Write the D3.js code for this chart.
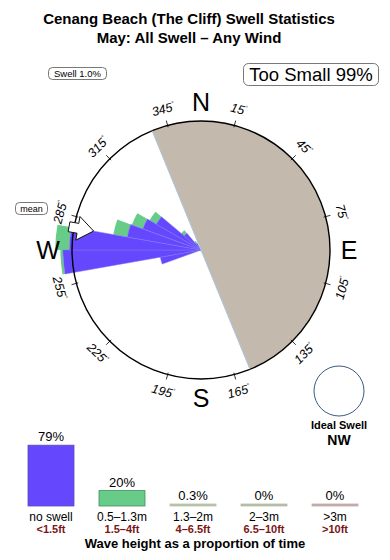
<!DOCTYPE html>
<html lang="en">
<head>
<meta charset="UTF-8">
<title>Cenang Beach (The Cliff) Swell Statistics</title>
<style>
body{margin:0;background:#fff;}
svg text{font-family:"Liberation Sans",Arial,Helvetica,sans-serif;}
</style>
</head>
<body>
<script src="https://cdn.jsdelivr.net/npm/d3@7"></script>
<script>
// rose bins (direction swell comes from, deg) and stacked amounts
var dirs = [255, 265, 275, 285, 295, 305, 315, 325];
var smallSwell = [32, 107, 102, 58, 48, 40, 17, 6];   // blue part
var midSwell = [0, 2, 11, 11, 9, 6, 3, 2];            // green part on top
var meanDir = 280;
var landFrom = 337.7, landTo = 157.7;

var tickDeg = [15, 45, 75, 105, 135, 165, 195, 225, 255, 285, 315, 345];
var cardLabels = ["N", "E", "S", "W"];
var cardDeg = [0, 90, 180, 270];

// bottom bar chart
var heightCats = ["no swell", "0.5\u20131.3m", "1.3\u20132m", "2\u20133m", ">3m"];
var heightFt = ["<1.5ft", "1.5\u20134ft", "4\u20136.5ft", "6.5\u201310ft", ">10ft"];
var heightPct = [79, 20, 0.3, 0, 0];
var pctLabels = ["79%", "20%", "0.3%", "0%", "0%"];

var barColors = ["#6547fd", "#66cc88", "#b7c3a9", "#b4bca6", "#c3abab"];
var barStroke = ["#5a4fb0", "#3f8f5c", "#b7c3a9", "#b4bca6", "#c3abab"];

var W = 390, H = 560;
var svg = d3.select("body").append("svg").attr("width", W).attr("height", H);

// titles
svg.append("text").attr("x", 189).attr("y", 24).attr("text-anchor", "middle")
  .attr("font-size", 15).attr("font-weight", "bold")
  .text("Cenang Beach (The Cliff) Swell Statistics");
svg.append("text").attr("x", 189).attr("y", 43).attr("text-anchor", "middle")
  .attr("font-size", 15).attr("font-weight", "bold")
  .text("May: All Swell \u2013 Any Wind");

// legend boxes
function box(x, y, w, h, rx, fs, txt) {
  svg.append("rect").attr("x", x).attr("y", y).attr("width", w).attr("height", h)
    .attr("rx", rx).attr("fill", "#fff").attr("stroke", "#555").attr("stroke-width", 0.8);
  svg.append("text").attr("x", x + w / 2).attr("y", y + h / 2).attr("dy", "0.36em")
    .attr("text-anchor", "middle").attr("font-size", fs).text(txt);
}
box(48.5, 67.5, 58, 12, 4, 9.5, "Swell 1.0%");
box(243.5, 63.5, 135, 22, 5, 18.5, "Too Small 99%");
box(15.5, 202.5, 32, 12, 4, 9, "mean");

// rose
var cx = 201, cy = 250, R = 129;
var r = d3.scaleLinear().domain([0, 100]).range([0, R]);
var rad = function (d) { return d * Math.PI / 180; };
function polar(b, rr) {
  return [cx + rr * Math.sin(rad(b)), cy - rr * Math.cos(rad(b))];
}

var g = svg.append("g").attr("transform", "translate(" + cx + "," + cy + ")");
g.append("circle").attr("r", R).attr("fill", "#fff");

// land half
g.append("path")
  .attr("d", d3.arc()({innerRadius: 0, outerRadius: R, startAngle: rad(landFrom - 360), endAngle: rad(landTo)}))
  .attr("fill", "#c4b9ad");
var p1 = polar(landFrom, R), p2 = polar(landTo, R);
svg.append("line").attr("x1", p1[0]).attr("y1", p1[1]).attr("x2", p2[0]).attr("y2", p2[1])
  .attr("stroke", "#a9c6e2").attr("stroke-width", 1);

// wedges
var arc = d3.arc();
var bins = dirs.map(function (d, i) {
  return {a0: rad(d - 5), a1: rad(d + 5), blue: smallSwell[i], green: smallSwell[i] + midSwell[i]};
});
g.selectAll(".green").data(bins).enter().append("path")
  .attr("d", function (d) { return arc({innerRadius: r(d.blue), outerRadius: r(d.green), startAngle: d.a0, endAngle: d.a1}); })
  .attr("fill", "#66cc88");
g.selectAll(".blue").data(bins).enter().append("path")
  .attr("d", function (d) { return arc({innerRadius: 0, outerRadius: r(d.blue), startAngle: d.a0, endAngle: d.a1}); })
  .attr("fill", "#6547fd").attr("stroke", "#7f74f5").attr("stroke-width", 0.5);

// circle outline
g.append("circle").attr("r", R).attr("fill", "none").attr("stroke", "#000").attr("stroke-width", 1.4);

// ticks and degree labels
tickDeg.forEach(function (b) {
  var a = polar(b, R - 2), c = polar(b, R + 5);
  svg.append("line").attr("x1", a[0]).attr("y1", a[1]).attr("x2", c[0]).attr("y2", c[1])
    .attr("stroke", "#000").attr("stroke-width", 0.8);
  var p = polar(b, 146);
  var rot = ((b + 90) % 180) - 90;
  var t = svg.append("text").attr("transform", "translate(" + p[0] + "," + p[1] + ") rotate(" + rot + ")")
    .attr("text-anchor", "middle").attr("dy", "0.36em")
    .attr("font-size", 12.5).attr("font-style", "italic");
  t.append("tspan").text(b);
  t.append("tspan").attr("font-size", 6).attr("dy", "-0.9em").text("\u00b0");
});

// cardinal labels
cardDeg.forEach(function (b, i) {
  var p = polar(b, i === 3 ? 153 : 148);
  svg.append("text").attr("x", p[0]).attr("y", p[1]).attr("dy", "0.36em")
    .attr("text-anchor", "middle").attr("font-size", 25).text(cardLabels[i]);
});

// mean arrow
var tip = polar(meanDir, 109);
var base = polar(meanDir, 125);
var stem = polar(meanDir, 134);
var nx = Math.cos(rad(meanDir)), ny = Math.sin(rad(meanDir));
function off(pt, s) { return [pt[0] + s * nx, pt[1] + s * ny]; }
var arrowPts = [tip, off(base, 12), off(base, 5), off(stem, 5), off(stem, -5), off(base, -5), off(base, -12)];
svg.append("path").attr("d", d3.line()(arrowPts) + "Z")
  .attr("fill", "#fff").attr("stroke", "#111").attr("stroke-width", 1);

// ideal swell
svg.append("circle").attr("cx", 339).attr("cy", 391).attr("r", 25)
  .attr("fill", "#fff").attr("stroke", "#3a5a80").attr("stroke-width", 1);
svg.append("text").attr("x", 339).attr("y", 429).attr("text-anchor", "middle")
  .attr("font-size", 11).attr("font-weight", "bold").text("Ideal Swell");
svg.append("text").attr("x", 339).attr("y", 445).attr("text-anchor", "middle")
  .attr("font-size", 14).attr("font-weight", "bold").text("NW");

// bar chart
var bx = d3.scalePoint().domain(heightCats).range([51, 335]);
var by = d3.scaleLinear().domain([0, 100]).range([506, 429]);
var bw = 46;
heightCats.forEach(function (c, i) {
  var top = Math.min(by(heightPct[i]), 504);
  svg.append("rect").attr("x", bx(c) - bw / 2).attr("y", top)
    .attr("width", bw).attr("height", 506 - top)
    .attr("fill", barColors[i]).attr("stroke", barStroke[i]).attr("stroke-width", 0.8);
  svg.append("text").attr("x", bx(c)).attr("y", top - 4).attr("text-anchor", "middle")
    .attr("font-size", 13).text(pctLabels[i]);
  svg.append("text").attr("x", bx(c)).attr("y", 520.5).attr("text-anchor", "middle")
    .attr("font-size", 12).text(c);
  svg.append("text").attr("x", bx(c)).attr("y", 533).attr("text-anchor", "middle")
    .attr("font-size", 11).attr("font-weight", "bold").attr("fill", "#7b1515").text(heightFt[i]);
});
svg.append("text").attr("x", 195).attr("y", 548).attr("text-anchor", "middle")
  .attr("font-size", 13).attr("font-weight", "bold").text("Wave height as a proportion of time");
</script>
</body>
</html>
